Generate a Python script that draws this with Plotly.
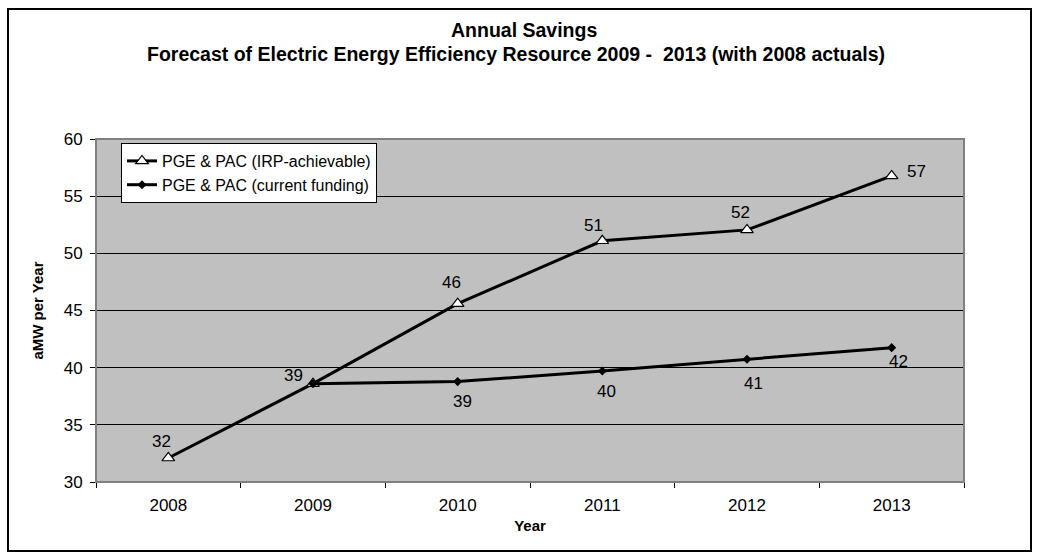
import plotly.graph_objects as go

years = ["2008", "2009", "2010", "2011", "2012", "2013"]
irp_values = [32.1, 38.6, 45.6, 51.1, 52.05, 56.77]
current_years = ["2009", "2010", "2011", "2012", "2013"]
current_values = [38.6, 38.78, 39.71, 40.73, 41.75]
y_ticks = [30, 35, 40, 45, 50, 55, 60]

irp_name = "PGE & PAC (IRP-achievable)"
cur_name = "PGE & PAC (current funding)"
title_1 = "Annual Savings"
title_2 = "Forecast of Electric Energy Efficiency Resource 2009 -  2013 (with 2008 actuals)"

FONT = "Liberation Sans, Arial, sans-serif"

# label offsets (pixels) for data labels
irp_offsets = [(-7, 16), (-20, 8), (-6, 21), (-9, 15), (-7, 17), (25, 4)]
cur_offsets = [None, (5, -20), (4, -21), (6, -24), (7, -14)]

W, H = 1039, 552
L, R, T, B = 96, 75, 139, 70
pw, ph = W - L - R, H - T - B

fig = go.Figure()
fig.add_trace(go.Scatter(
    x=years, y=irp_values, name=irp_name, mode="lines+markers",
    line=dict(color="black", width=3),
    marker=dict(symbol="triangle-up", size=11, color="white",
                line=dict(color="black", width=1.2)),
))
fig.add_trace(go.Scatter(
    x=current_years, y=current_values, name=cur_name, mode="lines+markers",
    line=dict(color="black", width=3),
    marker=dict(symbol="diamond", size=7, color="black"),
))


def label(v):
    return str(int(v + 0.5))


annotations = []
for x, v, off in zip(years, irp_values, irp_offsets):
    annotations.append(dict(x=years.index(x), y=v, xref="x", yref="y", text=label(v),
                            showarrow=False, xshift=off[0], yshift=off[1],
                            font=dict(family=FONT, size=17, color="black")))
for x, v, off in zip(current_years, current_values, cur_offsets):
    if off is None:
        continue
    annotations.append(dict(x=years.index(x), y=v, xref="x", yref="y", text=label(v),
                            showarrow=False, xshift=off[0], yshift=off[1],
                            font=dict(family=FONT, size=17, color="black")))


def py(pix):
    return (H - B - pix) / ph


def px(pix):
    return (pix - L) / pw


annotations.append(dict(x=px(524), y=py(30), xref="paper", yref="paper",
                        text="<b>" + title_1 + "</b>", showarrow=False,
                        xanchor="center", yanchor="middle",
                        font=dict(family=FONT, size=19.5, color="black")))
annotations.append(dict(x=px(516), y=py(54), xref="paper", yref="paper",
                        text="<b>" + title_2 + "</b>",
                        showarrow=False, xanchor="center", yanchor="middle",
                        font=dict(family=FONT, size=19.5, color="black")))

shapes = [
    dict(type="rect", xref="paper", yref="paper", x0=0, x1=1, y0=0, y1=1,
         line=dict(color="#808080", width=2), layer="above"),
    dict(type="rect", xref="paper", yref="paper",
         x0=px(8), x1=px(1031), y0=py(551), y1=py(9),
         line=dict(color="black", width=2)),
]

fig.update_layout(
    width=W, height=H,
    margin=dict(l=L, r=R, t=T, b=B, pad=0),
    paper_bgcolor="white", plot_bgcolor="#C0C0C0",
    font=dict(family=FONT, size=17, color="black"),
    annotations=annotations, shapes=shapes,
    showlegend=True,
    legend=dict(x=px(121), y=py(143), xanchor="left", yanchor="top",
                bgcolor="white", bordercolor="black", borderwidth=1,
                font=dict(family=FONT, size=16, color="black"),
                itemwidth=30, tracegroupgap=0),
    xaxis=dict(type="category", range=[-0.5, 5.5], showgrid=False,
               showline=True, linecolor="black", linewidth=1,
               ticks="outside", tickson="boundaries", ticklen=5,
               tickcolor="black", ticklabelstandoff=8,
               tickfont=dict(family=FONT, size=17),
               title=dict(text="<b>Year</b>", font=dict(family=FONT, size=15), standoff=6),
               zeroline=False),
    yaxis=dict(range=[30, 60], tickvals=y_ticks, showgrid=True,
               gridcolor="black", gridwidth=1,
               showline=True, linecolor="black", linewidth=1,
               ticks="outside", ticklen=5, tickcolor="black",
               ticklabelstandoff=4,
               tickfont=dict(family=FONT, size=17),
               title=dict(text="<b>aMW per Year</b>", font=dict(family=FONT, size=15), standoff=16),
               zeroline=False),
)

fig.write_html("out.html")
